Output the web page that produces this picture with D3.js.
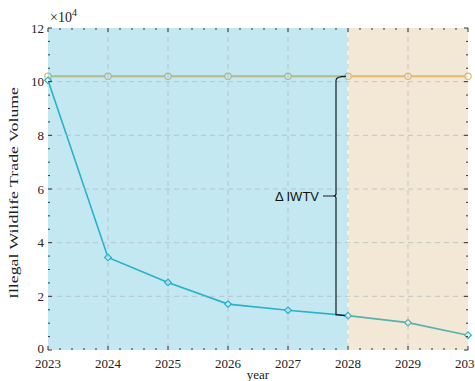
<!DOCTYPE html>
<html><head><meta charset="utf-8">
<script src="https://cdn.jsdelivr.net/npm/d3@7"></script>
<style>body{margin:0;background:#fff}svg{display:block}</style>
</head><body>
<svg id="c" width="475" height="381"></svg>
<script>
const years = [2023, 2024, 2025, 2026, 2027, 2028, 2029, 2030];
const baseline = [10.2, 10.2, 10.2, 10.2, 10.2, 10.2, 10.2, 10.2]; // ×10^4
const actual = [10.05, 3.45, 2.52, 1.71, 1.48, 1.28, 1.02, 0.55];   // ×10^4
const yTicks = [0, 2, 4, 6, 8, 10, 12];
const xTickLabels = ["2023","2024","2025","2026","2027","2028","2029","2030"];
const regions = [{from: 2023, to: 2028, color: "rgb(60,180,210)", op: 0.3},
                 {from: 2028, to: 2030, color: "rgb(215,180,120)", op: 0.3}];
const bracketLabel = "Δ IWTV";

const svg = d3.select("#c");
const L = 48, R = 468, T = 28, B = 350;
const x = d3.scaleLinear().domain([2023, 2030]).range([L, R]);
const y = d3.scaleLinear().domain([0, 12]).range([B, T]);

// lines first (patches overlay them with transparency)
const g = svg.append("g");
const line = d3.line().x((d, i) => x(years[i])).y(d => y(d));
g.append("path").datum(baseline).attr("d", line)
  .attr("fill","none").attr("stroke","rgb(226,190,112)").attr("stroke-width",2);
g.append("path").datum(actual).attr("d", line)
  .attr("fill","none").attr("stroke","rgb(30,178,200)").attr("stroke-width",1.6);
g.selectAll("circle.b").data(baseline).join("circle")
  .attr("cx",(d,i)=>x(years[i])).attr("cy",d=>y(d)).attr("r",3.2)
  .attr("fill","#fff").attr("stroke","rgb(222,186,105)").attr("stroke-width",1.2);
const sym = d3.symbol().type(d3.symbolSquare).size(22);
g.selectAll("path.a").data(actual).join("path")
  .attr("transform",(d,i)=>`translate(${x(years[i])},${y(d)}) rotate(45)`)
  .attr("d", sym).attr("fill","#fff").attr("stroke","rgb(30,178,200)").attr("stroke-width",1.2);

// region patches
svg.selectAll("rect.reg").data(regions).join("rect")
  .attr("x", d => x(d.from) + (d.from > 2023 ? 0.5 : 0))
  .attr("width", d => x(d.to) - x(d.from) - 0.5)
  .attr("y", T).attr("height", B - T)
  .attr("fill", d => d.color).attr("fill-opacity", d => d.op);

// grid
const grid = svg.append("g").attr("stroke","#a9b4b8").attr("stroke-width",0.9)
  .attr("stroke-dasharray","5,4").attr("opacity",0.7);
grid.selectAll("line.gx").data(years.slice(1, -1)).join("line")
  .attr("x1", d => x(d)).attr("x2", d => x(d)).attr("y1", T).attr("y2", B);
grid.selectAll("line.gy").data(yTicks.slice(1, -1)).join("line")
  .attr("x1", L).attr("x2", R).attr("y1", d => y(d)).attr("y2", d => y(d));

// ticks
const tk = svg.append("g").attr("stroke","#333").attr("stroke-width",1);
const minorX = d3.range(2023, 2030.001, 0.2);
const minorY = d3.range(0, 12.001, 0.5);
minorX.forEach(v => {
  const major = Math.abs(v - Math.round(v)) < 1e-6;
  const len = major ? 4 : 2;
  tk.append("line").attr("x1", x(v)).attr("x2", x(v)).attr("y1", B).attr("y2", B - len);
  tk.append("line").attr("x1", x(v)).attr("x2", x(v)).attr("y1", T).attr("y2", T + len);
});
minorY.forEach(v => {
  const major = Math.abs(v / 2 - Math.round(v / 2)) < 1e-6;
  const len = major ? 4 : 2;
  tk.append("line").attr("y1", y(v)).attr("y2", y(v)).attr("x1", L).attr("x2", L + len);
  tk.append("line").attr("y1", y(v)).attr("y2", y(v)).attr("x1", R).attr("x2", R - len);
});

// tick labels
const serif = "'Liberation Serif', 'DejaVu Serif', serif";
svg.append("g").selectAll("text").data(yTicks).join("text")
  .attr("x", L - 4).attr("y", d => y(d) - (d === 0 ? 2 : 0)).attr("dy", "0.35em")
  .attr("text-anchor","end").attr("font-family", serif).attr("font-size", 13).attr("fill","#222")
  .text(d => d);
svg.append("g").selectAll("text").data(years).join("text")
  .attr("x", d => x(d)).attr("y", 368)
  .attr("text-anchor","middle").attr("font-family", serif).attr("font-size", 13).attr("fill","#222")
  .text((d, i) => xTickLabels[i]);

// exponent
const ex = svg.append("text").attr("x", 50).attr("y", 22).attr("font-family", serif)
  .attr("font-size", 14).attr("fill","#222");
ex.append("tspan").text("×10");
ex.append("tspan").attr("dy", -6).attr("font-size", 10).text("4");

// axis labels
svg.append("text").attr("x", x(2026.5)).attr("y", 379).attr("text-anchor","middle")
  .attr("font-family", serif).attr("font-size", 13).attr("fill","#222").text("year");
svg.append("text").attr("transform", `translate(18,${(T + B) / 2 + 4}) rotate(-90)`)
  .attr("text-anchor","middle").attr("font-family", serif).attr("font-size", 13.5)
  .attr("textLength", 212).attr("lengthAdjust","spacingAndGlyphs")
  .attr("fill","#222").text("Illegal Wildlife Trade Volume");

// bracket
const bx = x(2028) - 12, xp = x(2028);
const yTop = y(baseline[5]), yBot = y(actual[5]), yMid = (yTop + yBot) / 2;
const p = d3.path();
p.moveTo(xp - 2, yTop);
p.quadraticCurveTo(bx, yTop, bx, yTop + 4);
p.lineTo(bx, yMid - 2);
p.quadraticCurveTo(bx, yMid, bx - 3, yMid);
p.lineTo(bx - 13, yMid);
p.moveTo(bx - 3, yMid);
p.quadraticCurveTo(bx, yMid, bx, yMid + 2);
p.lineTo(bx, yBot - 1);
p.lineTo(xp - 3, yBot);
svg.append("path").attr("d", p.toString()).attr("fill","none")
  .attr("stroke","#1a1a1a").attr("stroke-width",1.2);
svg.append("text").attr("x", bx - 17).attr("y", yMid).attr("dy","0.35em")
  .attr("text-anchor","end").attr("font-family","'Liberation Sans', Arial, sans-serif")
  .attr("font-size", 13).attr("fill","#111").text(bracketLabel);
</script>
</body></html>
